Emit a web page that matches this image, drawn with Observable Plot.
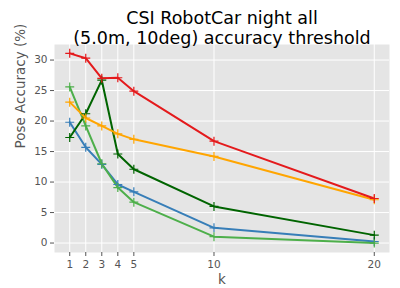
<!DOCTYPE html>
<html><head><meta charset="utf-8">
<script src="https://cdn.jsdelivr.net/npm/d3@7"></script>
<script src="https://cdn.jsdelivr.net/npm/@observablehq/plot@0.6"></script>
<style>body{margin:0;background:#fff;} svg{font-family:"DejaVu Sans",sans-serif;}</style>
</head><body><div id="chart"></div>
<script>
const kValues = [1, 2, 3, 4, 5, 10, 20];
const seriesNames = ["s1", "s2", "s3", "s4", "s5"];
const seriesColors = ["#377eb8", "#4daf4a", "#006400", "#ffa500", "#e41a1c"];
const blueVals = [19.8, 15.7, 12.9, 9.6, 8.4, 2.5, 0.25];
const lightGreenVals = [25.6, 19.2, 13.0, 9.1, 6.7, 1.05, 0.0];
const darkGreenVals = [17.3, 21.2, 26.7, 14.6, 12.1, 6.0, 1.3];
const orangeVals = [23.1, 20.5, 19.2, 17.9, 17.0, 14.2, 7.1];
const redVals = [31.1, 30.3, 27.0, 27.1, 24.9, 16.7, 7.3];
const yTicks = [0, 5, 10, 15, 20, 25, 30];

const allVals = [blueVals, lightGreenVals, darkGreenVals, orangeVals, redVals];
const data = [];
seriesNames.forEach((s, i) => kValues.forEach((k, j) => data.push({series: s, k, v: allVals[i][j]})));

const chart = Plot.plot({
  width: 400, height: 288,
  marginLeft: 54, marginRight: 11, marginTop: 44, marginBottom: 36,
  style: {fontFamily: "DejaVu Sans, sans-serif", background: "white"},
  x: {domain: [0.05, 20.95], ticks: kValues, label: null},
  y: {domain: [-1.55, 32.55], ticks: yTicks, label: null},
  color: {domain: seriesNames, range: seriesColors},
  marks: [
    Plot.frame({fill: "#e5e5e5", stroke: null}),
    Plot.gridX(kValues, {stroke: "white", strokeOpacity: 1, strokeWidth: 1}),
    Plot.gridY(yTicks, {stroke: "white", strokeOpacity: 1, strokeWidth: 1}),
    Plot.axisX(kValues, {tickSize: 4, tickPadding: 4, stroke: "#555", fill: "#555", fontSize: 10.5, label: null}),
    Plot.axisY(yTicks, {tickSize: 4, tickPadding: 3, stroke: "#555", fill: "#555", fontSize: 10.5, label: null}),
    Plot.line(data, {x: "k", y: "v", z: "series", stroke: "series", strokeWidth: 2}),
    Plot.dot(data, {x: "k", y: "v", stroke: "series", symbol: "plus", r: 3, strokeWidth: 1.2}),
    Plot.text(["CSI RobotCar night all"], {frameAnchor: "top", dy: -32.8, fontSize: 17.5, fill: "black"}),
    Plot.text(["(5.0m, 10deg) accuracy threshold"], {frameAnchor: "top", dy: -12.5, fontSize: 17.5, fill: "black"}),
    Plot.text(["k"], {frameAnchor: "bottom", dy: 31, fontSize: 13.5, fill: "#555"}),
    Plot.text(["Pose Accuracy (%)"], {frameAnchor: "left", dx: -34, rotate: -90, fontSize: 13.5, fill: "#555"})
  ]
});
document.getElementById("chart").append(chart);
</script></body></html>
